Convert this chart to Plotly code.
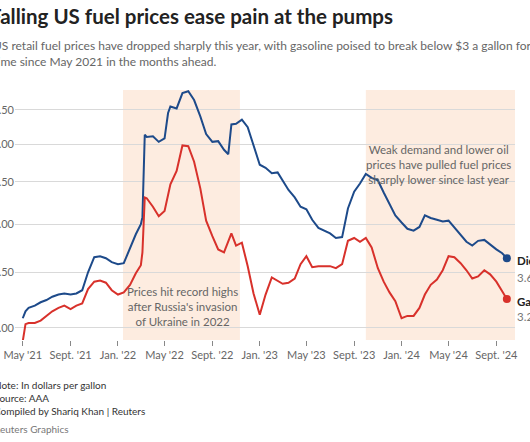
import math
import plotly.graph_objects as go

dates = ["2021-05-01","2021-05-08","2021-05-16","2021-06-01","2021-06-16","2021-07-01","2021-07-16",
         "2021-08-01","2021-08-16","2021-09-01","2021-09-16","2021-10-01","2021-10-16","2021-11-01",
         "2021-11-16","2021-12-01","2021-12-16","2022-01-01","2022-01-16","2022-02-01","2022-02-16",
         "2022-03-01","2022-03-05","2022-03-11","2022-03-16","2022-04-01","2022-04-16","2022-05-01",
         "2022-05-10","2022-05-16","2022-06-01","2022-06-16","2022-07-01","2022-07-16","2022-08-01",
         "2022-08-16","2022-09-01","2022-09-16","2022-10-01","2022-10-12","2022-10-20","2022-11-01",
         "2022-11-16","2022-12-01","2022-12-16","2023-01-01","2023-01-16","2023-02-01","2023-02-16",
         "2023-03-01","2023-03-16","2023-04-01","2023-04-16","2023-05-01","2023-05-16","2023-06-01",
         "2023-06-16","2023-07-01","2023-07-16","2023-08-01","2023-08-16","2023-09-01","2023-09-16",
         "2023-10-01","2023-10-16","2023-11-01","2023-11-16","2023-12-01","2023-12-16","2024-01-01",
         "2024-01-16","2024-02-01","2024-02-16","2024-03-01","2024-03-16","2024-04-01","2024-04-16",
         "2024-05-01","2024-05-16","2024-06-01","2024-06-16","2024-07-01","2024-07-16","2024-08-01",
         "2024-08-16","2024-09-01","2024-09-16","2024-09-28"]

diesel = [3.08,3.14,3.17,3.19,3.22,3.24,3.27,
          3.29,3.30,3.29,3.30,3.33,3.50,3.65,
          3.66,3.64,3.60,3.58,3.59,3.74,3.89,
          4.00,4.08,5.13,5.10,5.11,5.03,5.08,
          5.45,5.55,5.52,5.76,5.79,5.65,5.40,
          5.14,5.03,5.04,4.92,4.86,5.28,5.29,
          5.35,5.24,4.97,4.72,4.68,4.61,4.62,
          4.52,4.40,4.31,4.20,4.17,4.05,3.96,
          3.93,3.90,3.85,3.86,4.18,4.38,4.48,
          4.60,4.55,4.52,4.37,4.24,4.10,4.02,
          3.95,3.93,3.97,4.10,4.07,4.05,4.03,
          4.04,3.96,3.88,3.81,3.77,3.82,3.83,
          3.78,3.73,3.69,3.64]

gasoline = [2.89,3.03,3.04,3.04,3.06,3.10,3.14,
            3.17,3.19,3.16,3.19,3.21,3.34,3.41,
            3.42,3.40,3.33,3.29,3.31,3.38,3.49,
            3.57,3.70,4.31,4.30,4.20,4.09,4.15,
            4.33,4.47,4.64,4.98,4.97,4.76,4.42,
            4.04,3.87,3.73,3.70,3.82,3.90,3.77,
            3.80,3.56,3.30,3.11,3.29,3.45,3.42,
            3.39,3.40,3.44,3.58,3.66,3.55,3.56,
            3.56,3.56,3.54,3.58,3.82,3.85,3.81,
            3.85,3.75,3.54,3.41,3.31,3.23,3.08,
            3.10,3.10,3.17,3.29,3.38,3.43,3.52,
            3.66,3.65,3.59,3.52,3.44,3.46,3.52,
            3.48,3.41,3.32,3.25]

x_tick_vals = ["2021-05-01","2021-09-01","2022-01-01","2022-05-01","2022-09-01","2023-01-01",
               "2023-05-01","2023-09-01","2024-01-01","2024-05-01","2024-09-01"]
x_tick_text = ["May '21","Sept. '21","Jan. '22","May '22","Sept. '22","Jan. '23",
               "May '23","Sept. '23","Jan. '24","May '24","Sept. '24"]
y_tick_vals = [3.0, 3.5, 4.0, 4.5, 5.0, 5.5]
y_tick_text = ["3.00", "3.50", "4.00", "4.50", "5.00", "5.50"]

shade_periods = [("2022-01-14", "2022-11-11"), ("2023-10-01", "2024-10-19")]

BLUE = "#1d4a8a"
RED = "#d8312b"
SHADE = "#fdece0"
FONT = "Lato"

fig = go.Figure()
fig.add_trace(go.Scatter(x=dates, y=diesel, mode="lines", line=dict(color=BLUE, width=2), name="Diesel",
                         hoverinfo="skip"))
fig.add_trace(go.Scatter(x=dates, y=gasoline, mode="lines", line=dict(color=RED, width=2), name="Gasoline",
                         hoverinfo="skip"))
fig.add_trace(go.Scatter(x=[dates[-1]], y=[diesel[-1]], mode="markers", marker=dict(color=BLUE, size=8),
                         hoverinfo="skip"))
fig.add_trace(go.Scatter(x=[dates[-1]], y=[gasoline[-1]], mode="markers", marker=dict(color=RED, size=8),
                         hoverinfo="skip"))

for a, b in shade_periods:
    fig.add_shape(type="rect", xref="x", yref="paper", x0=a, x1=b, y0=0, y1=1,
                  fillcolor=SHADE, line=dict(width=0), layer="below")

ann = []
def txt(x, y, text, size, color, xanchor="left", xref="paper", yref="paper", align="left", xshift=0, yshift=0):
    ann.append(dict(x=x, y=y, xref=xref, yref=yref, text=text, showarrow=False, xanchor=xanchor,
                    yanchor="middle", align=align, xshift=xshift, yshift=yshift,
                    font=dict(family=FONT, size=size, color=color)))

txt(-0.054, 1.296, "<b>Falling US fuel prices ease pain at the pumps</b>", 20.5, "#222222")
txt(-0.048, 1.18, "US retail fuel prices have dropped sharply this year, with gasoline poised to break below $3 a gallon for the first", 12, "#666666")
txt(-0.048, 1.113, "time since May 2021 in the months ahead.", 12, "#666666")

txt(-0.047, -0.18, "Note: In dollars per gallon", 10, "#333333")
txt(-0.047, -0.233, "Source: AAA", 10, "#333333")
txt(-0.047, -0.283, "Compiled by Shariq Khan | Reuters", 10, "#333333")
txt(-0.047, -0.357, "Reuters Graphics", 10, "#777777")

txt("2022-06-17", 0.133, "Prices hit record highs<br>after Russia's invasion<br>of Ukraine in 2022", 11.5, "#666666",
    xanchor="center", xref="x", align="center")
txt("2024-04-04", 0.704, "Weak demand and lower oil<br>prices have pulled fuel prices<br>sharply lower since last year", 11.5, "#666666",
    xanchor="center", xref="x", align="center")

txt(dates[-1], math.log10(diesel[-1]), "<b>Diesel</b>", 11.5, "#222222", xref="x", yref="y", xshift=8, yshift=-2)
txt(dates[-1], math.log10(diesel[-1]), f"{diesel[-1]:.2f}", 11.5, "#777777", xref="x", yref="y", xshift=8, yshift=-19)
txt(dates[-1], math.log10(gasoline[-1]), "<b>Gasoline</b>", 11.5, "#222222", xref="x", yref="y", xshift=8, yshift=-3)
txt(dates[-1], math.log10(gasoline[-1]), f"{gasoline[-1]:.2f}", 11.5, "#777777", xref="x", yref="y", xshift=8, yshift=-18)

fig.update_layout(
    width=530, height=442,
    margin=dict(l=15, r=15, t=90, b=102),
    paper_bgcolor="white", plot_bgcolor="white",
    showlegend=False,
    annotations=ann,
    font=dict(family=FONT, size=11, color="#666666"),
    xaxis=dict(range=["2021-04-11", "2024-10-19"], tickvals=x_tick_vals, ticktext=x_tick_text,
               showgrid=False, zeroline=False, showline=False, ticks="outside", ticklen=5,
               tickcolor="#888888", tickwidth=1, tickfont=dict(size=11, color="#666666"), automargin=False),
    yaxis=dict(type="log", range=[0.4623, 0.7642], tickvals=y_tick_vals, ticktext=y_tick_text,
               showgrid=True, gridcolor="#d9d9d9", gridwidth=1, zeroline=False, showline=False,
               ticks="", tickfont=dict(size=11, color="#666666"), automargin=False),
)

fig.write_html("out.html", config={"displayModeBar": False},
               post_script="document.body.style.margin='0';")
